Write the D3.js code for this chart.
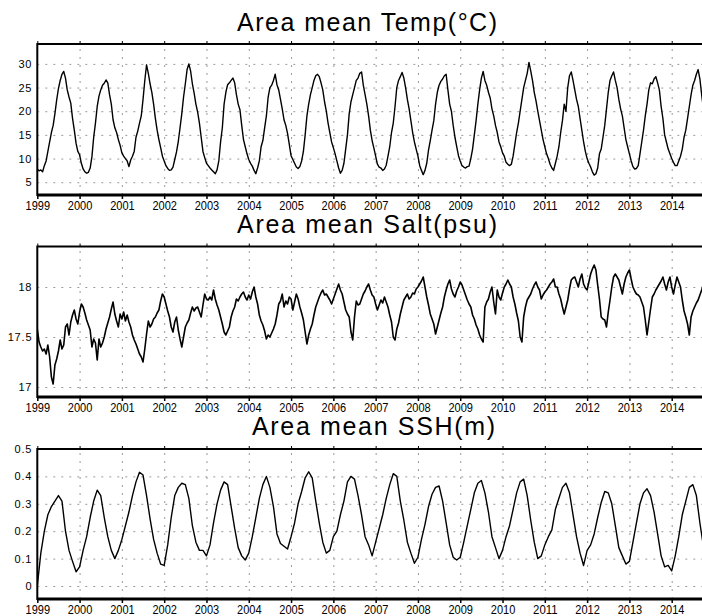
<!DOCTYPE html>
<html>
<head>
<meta charset="utf-8">
<script src="https://cdn.jsdelivr.net/npm/d3@7"></script>
<style>
  body { margin: 0; background: #fff; }
  svg { display: block; font-family: "Liberation Sans", Arial, sans-serif; }
</style>
</head>
<body>
<div id="chart"></div>
<script>
// Time axis: one tick per year
var years = d3.range(1999, 2015);
var startYear = 1999;

// Tick labels for each panel
var tempTicks = [5, 10, 15, 20, 25, 30];
var saltTicks = [17, 17.5, 18];
var sshTicks = [0, 0.1, 0.2, 0.3, 0.4, 0.5];

// Area mean temperature (deg C), twice a month from Jan 1999
var tempVals = [
  7.8,7.4,7.6,7.2,8.5,9.5,11.5,13.5,15.5,17.0,19.5,22.4,24.8,26.5,27.8,28.4,27.0,24.5,23.0,21.7,18.5,16.0,13.2,11.5,
  10.8,9.0,7.8,7.2,6.9,7.1,8.0,10.4,14.5,17.5,21.0,23.2,24.5,25.5,25.9,26.6,26.0,23.5,21.5,18.2,16.5,15.5,14.0,12.8,
  11.2,10.5,10.0,9.5,8.3,9.7,10.5,11.5,14.5,15.8,17.5,19.0,22.5,26.5,29.8,28.0,25.8,24.0,21.5,18.5,16.0,14.0,12.3,10.5,
  9.5,8.5,7.9,7.5,7.6,8.2,9.8,11.4,13.6,16.5,19.5,23.0,25.8,28.8,30.0,28.5,25.8,23.8,21.5,19.8,17.5,14.5,11.5,10.2,
  9.0,8.5,8.0,7.6,7.2,6.8,7.6,9.5,13.5,16.5,21.5,24.0,25.6,26.0,26.5,27.0,26.0,23.5,21.5,20.3,17.0,14.0,12.5,11.0,
  9.8,9.0,8.4,7.5,6.8,8.0,9.5,12.5,13.8,16.5,19.0,23.0,25.0,25.5,26.5,27.8,25.6,24.5,22.5,20.5,18.2,17.0,15.3,13.0,
  10.6,9.8,9.0,8.2,7.9,8.3,9.5,11.5,15.0,19.0,21.5,23.5,25.0,26.5,27.5,27.8,27.3,26.0,24.5,22.0,20.0,17.5,15.5,13.5,
  12.3,11.0,9.5,8.0,6.9,7.5,9.0,12.0,15.0,19.5,22.0,23.5,25.0,26.5,27.0,28.0,28.3,25.5,23.5,21.5,19.0,16.0,13.8,12.2,
  10.5,8.8,8.2,8.0,7.5,7.8,8.6,10.5,12.5,15.5,17.5,21.0,25.0,26.5,27.3,28.2,27.0,25.0,22.5,20.5,18.0,15.5,13.5,12.0,
  10.5,8.5,7.5,6.6,7.5,9.0,11.8,13.8,16.0,18.0,21.5,24.0,25.5,26.3,26.8,27.5,27.8,24.5,21.5,20.0,17.0,14.5,12.5,10.6,
  9.5,8.5,8.2,8.0,8.3,8.4,10.0,12.0,15.0,18.0,21.5,24.5,27.0,28.4,26.5,25.5,24.0,22.8,20.5,19.0,17.0,15.5,13.5,12.5,
  11.2,10.5,9.2,8.8,8.5,8.8,10.5,13.0,15.5,17.5,20.0,22.5,25.0,26.5,28.0,30.3,28.5,26.5,24.0,22.2,20.0,18.0,16.0,14.0,
  12.5,11.0,10.0,8.8,8.0,7.5,9.0,10.5,12.5,15.5,18.0,21.5,20.0,25.0,27.5,28.3,26.5,24.5,22.5,21.0,18.5,16.0,13.5,11.5,
  10.0,9.0,8.2,7.2,6.5,6.8,8.0,11.0,12.0,14.5,17.0,20.5,24.0,26.5,27.5,28.3,26.5,25.0,22.5,20.5,19.0,16.5,14.0,12.5,
  11.0,9.5,8.3,7.8,7.9,8.5,11.0,13.5,16.0,19.0,21.5,24.5,26.0,25.8,26.8,27.3,26.0,24.5,21.0,18.5,15.0,13.5,12.0,11.0,
  10.0,9.2,8.5,8.5,9.5,10.5,12.0,14.5,16.0,18.5,21.0,23.5,25.5,26.5,27.8,28.8,26.8,23.5,20.5
];

// Area mean salinity (psu), twice a month from Jan 1999
var saltVals = [
  17.58,17.45,17.40,17.36,17.38,17.33,17.42,17.30,17.10,17.03,17.22,17.28,17.36,17.47,17.38,17.42,17.60,17.63,17.52,17.65,17.72,17.77,17.68,17.63,
  17.75,17.83,17.80,17.74,17.67,17.62,17.57,17.40,17.48,17.44,17.27,17.48,17.40,17.44,17.50,17.58,17.64,17.70,17.78,17.85,17.73,17.66,17.60,17.73,
  17.68,17.75,17.66,17.72,17.65,17.60,17.52,17.47,17.43,17.38,17.33,17.30,17.25,17.38,17.53,17.66,17.60,17.63,17.68,17.70,17.74,17.77,17.86,17.93,
  17.90,17.83,17.76,17.70,17.60,17.55,17.65,17.70,17.57,17.48,17.40,17.50,17.60,17.64,17.67,17.74,17.80,17.76,17.79,17.80,17.75,17.70,17.82,17.93,
  17.88,17.87,17.90,17.87,17.97,17.88,17.82,17.77,17.70,17.63,17.55,17.52,17.56,17.60,17.70,17.76,17.80,17.88,17.86,17.90,17.93,17.95,17.90,17.87,
  17.92,17.88,17.95,18.00,17.90,17.83,17.72,17.66,17.62,17.56,17.48,17.52,17.50,17.54,17.58,17.63,17.72,17.83,17.86,17.93,17.80,17.86,17.83,17.90,
  17.88,17.77,17.85,17.93,17.88,17.80,17.74,17.67,17.55,17.43,17.52,17.58,17.63,17.72,17.80,17.85,17.90,17.94,17.97,17.92,17.93,17.90,17.87,17.83,
  17.88,17.93,17.98,18.03,17.97,17.93,17.85,17.77,17.73,17.70,17.55,17.47,17.70,17.86,17.82,17.83,17.88,17.93,17.96,18.00,18.03,17.97,17.92,17.90,
  17.83,17.77,17.82,17.87,17.84,17.90,17.85,17.80,17.72,17.65,17.50,17.47,17.58,17.64,17.73,17.80,17.87,17.90,17.93,17.88,17.90,17.94,17.93,17.98,
  18.00,18.03,18.06,18.10,18.00,17.90,17.82,17.73,17.68,17.63,17.53,17.60,17.67,17.74,17.80,17.90,17.97,18.03,18.07,17.98,17.93,17.90,17.96,18.00,
  18.05,18.02,17.97,17.92,17.87,17.83,17.80,17.72,17.68,17.62,17.58,17.52,17.48,17.45,17.80,17.85,17.88,17.95,18.00,17.85,17.73,17.97,17.90,17.87,
  17.94,18.00,18.03,18.07,18.03,18.00,17.90,17.83,17.74,17.66,17.50,17.45,17.70,17.80,17.87,17.90,17.93,17.98,18.02,18.05,18.00,17.97,17.88,17.92,
  17.95,17.97,18.00,18.03,18.05,18.08,18.00,18.00,17.93,17.88,17.80,17.73,17.80,17.87,17.98,18.07,18.09,18.10,18.05,18.00,18.08,18.13,18.03,17.99,
  17.97,18.05,18.13,18.18,18.22,18.17,18.02,17.88,17.70,17.68,17.67,17.60,17.75,17.87,18.00,18.10,18.13,18.10,18.07,18.00,17.93,18.03,18.10,18.14,
  18.17,18.08,18.00,17.96,17.93,17.92,17.90,17.85,17.80,17.67,17.52,17.65,17.78,17.90,17.93,17.97,18.00,18.03,18.06,18.10,18.03,17.97,18.05,18.10,
  18.00,17.93,18.02,18.10,18.05,18.00,17.87,17.76,17.70,17.63,17.52,17.70,17.76,17.80,17.84,17.87,17.92,17.97,18.03
];

// Area mean sea surface height (m), monthly from Jan 1999
var sshVals = [
  0.00,0.12,0.20,0.26,0.29,0.31,0.33,0.31,0.20,0.13,0.09,0.052,
  0.07,0.13,0.18,0.25,0.31,0.35,0.33,0.25,0.18,0.13,0.10,0.13,
  0.17,0.22,0.27,0.33,0.38,0.415,0.405,0.33,0.245,0.17,0.12,0.08,
  0.075,0.15,0.25,0.33,0.36,0.375,0.37,0.32,0.22,0.16,0.13,0.13,
  0.11,0.15,0.23,0.30,0.35,0.38,0.37,0.29,0.21,0.14,0.11,0.095,
  0.12,0.18,0.25,0.32,0.37,0.40,0.36,0.29,0.19,0.155,0.145,0.135,
  0.18,0.23,0.30,0.345,0.395,0.417,0.395,0.31,0.23,0.16,0.12,0.13,
  0.18,0.20,0.26,0.31,0.38,0.40,0.39,0.33,0.26,0.18,0.15,0.11,
  0.16,0.21,0.26,0.32,0.37,0.41,0.40,0.31,0.24,0.16,0.12,0.083,
  0.105,0.17,0.225,0.29,0.335,0.36,0.365,0.31,0.23,0.15,0.105,0.095,
  0.105,0.16,0.22,0.28,0.34,0.375,0.385,0.34,0.27,0.18,0.14,0.10,
  0.13,0.18,0.22,0.28,0.34,0.38,0.39,0.33,0.24,0.16,0.10,0.11,
  0.15,0.18,0.205,0.28,0.32,0.36,0.375,0.34,0.26,0.18,0.12,0.075,
  0.13,0.15,0.19,0.25,0.305,0.345,0.34,0.30,0.22,0.14,0.11,0.08,
  0.09,0.16,0.23,0.30,0.34,0.355,0.33,0.27,0.19,0.11,0.07,0.075,
  0.055,0.11,0.18,0.26,0.31,0.36,0.37,0.33,0.23,0.145
];

var width = 702, height = 616;

// Shared time scale (decimal years); the plot box runs off the right edge
var xScale = d3.scaleLinear()
    .domain([1999, 2014.74])
    .range([37.3, 703]);

var svg = d3.select("#chart").append("svg")
    .attr("width", width)
    .attr("height", height);

// One entry per panel
var panels = [
  {title: "Area mean Temp(\u00b0C)", tx: 237, ty: 31, tw: 260, top: 44, bottom: 195,
   domain: [2.3, 34.2], ticks: tempTicks, values: tempVals, perYear: 24, lw: 1.4},
  {title: "Area mean Salt(psu)", tx: 237, ty: 233, tw: 260, top: 246.5, bottom: 397,
   domain: [16.9, 18.405], ticks: saltTicks, values: saltVals, perYear: 24, lw: 1.6},
  {title: "Area mean SSH(m)", tx: 252, ty: 435, tw: 243, top: 449, bottom: 599,
   domain: [-0.0474, 0.5], ticks: sshTicks, values: sshVals, perYear: 12, lw: 1.4}
];

panels.forEach(function(p, k) {
  var yScale = d3.scaleLinear()
      .domain(p.domain)
      .range([p.bottom, p.top]);

  var g = svg.append("g");

  // clip the line to the plot box
  g.append("clipPath")
      .attr("id", "clip" + k)
    .append("rect")
      .attr("x", xScale.range()[0])
      .attr("y", p.top)
      .attr("width", xScale.range()[1] - xScale.range()[0])
      .attr("height", p.bottom - p.top);

  // dotted grid, one line per year and per y tick
  g.append("g")
      .attr("transform", "translate(0," + p.bottom + ")")
      .call(d3.axisBottom(xScale).tickValues(years.slice(1)).tickSize(-(p.bottom - p.top)).tickFormat(""))
      .call(function(s) { s.select(".domain").remove(); })
      .selectAll("line")
      .attr("stroke", "#9a9a9a")
      .attr("stroke-dasharray", "2,6");

  g.append("g")
      .attr("transform", "translate(" + xScale.range()[0] + ",0)")
      .call(d3.axisLeft(yScale).tickValues(p.ticks).tickSize(-(xScale.range()[1] - xScale.range()[0])).tickFormat(""))
      .call(function(s) { s.select(".domain").remove(); })
      .selectAll("line")
      .attr("stroke", "#9a9a9a")
      .attr("stroke-dasharray", "2,6");

  // the series itself
  var line = d3.line()
      .x(function(d, i) { return xScale(startYear + i / p.perYear); })
      .y(function(d) { return yScale(d); });

  g.append("path")
      .datum(p.values)
      .attr("clip-path", "url(#clip" + k + ")")
      .attr("d", line)
      .attr("fill", "none")
      .attr("stroke", "#000")
      .attr("stroke-width", p.lw)
      .attr("stroke-linejoin", "round");

  // frame: left and top, heavier bottom
  g.append("rect")
      .attr("x", xScale.range()[0])
      .attr("y", p.top)
      .attr("width", xScale.range()[1] - xScale.range()[0])
      .attr("height", p.bottom - p.top)
      .attr("fill", "none")
      .attr("stroke", "#000")
      .attr("stroke-width", 2);

  g.append("line")
      .attr("x1", xScale.range()[0]).attr("x2", xScale.range()[1])
      .attr("y1", p.bottom).attr("y2", p.bottom)
      .attr("stroke", "#000")
      .attr("stroke-width", 3);

  // small year ticks above the top edge
  g.append("g")
      .attr("transform", "translate(0," + p.top + ")")
      .call(d3.axisTop(xScale).tickValues(years).tickSize(3).tickFormat(""))
      .call(function(s) { s.select(".domain").remove(); })
      .selectAll("line").attr("stroke", "#000");

  // year labels under the bottom edge
  var xa = g.append("g")
      .attr("transform", "translate(0," + p.bottom + ")")
      .call(d3.axisBottom(xScale).tickValues(years).tickSize(4).tickPadding(3).tickFormat(d3.format("d")));
  xa.select(".domain").remove();
  xa.selectAll("line").attr("stroke", "#000").attr("stroke-width", 1.5);
  xa.selectAll("text")
      .attr("dy", null)
      .attr("y", 15)
      .attr("fill", "#000")
      .attr("font-size", 12.5)
      .attr("textLength", 24.5)
      .attr("lengthAdjust", "spacingAndGlyphs")
      .attr("font-family", "Liberation Sans, Arial, sans-serif");

  // value labels on the left
  var ya = g.append("g")
      .attr("transform", "translate(" + xScale.range()[0] + ",0)")
      .call(d3.axisLeft(yScale).tickValues(p.ticks).tickSize(0).tickPadding(5).tickFormat(String));
  ya.select(".domain").remove();
  ya.selectAll("text")
      .attr("fill", "#000")
      .attr("font-size", 11)
      .attr("letter-spacing", 0.8)
      .attr("font-family", "Liberation Sans, Arial, sans-serif");

  // panel title
  svg.append("text")
      .attr("x", p.tx)
      .attr("y", p.ty)
      .attr("font-size", 25)
      .attr("textLength", p.tw)
      .attr("lengthAdjust", "spacing")
      .attr("fill", "#000")
      .text(p.title);
});
</script>
</body>
</html>
